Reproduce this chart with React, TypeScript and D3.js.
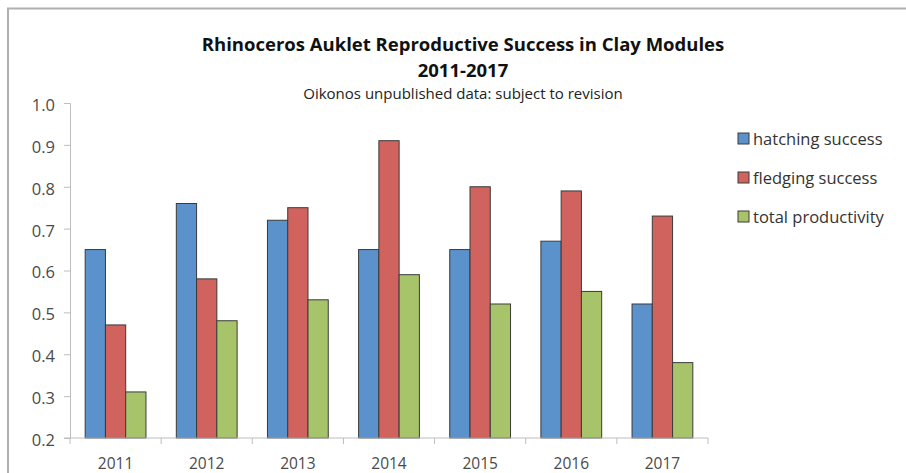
import React, { useEffect, useRef } from "react";
import * as d3 from "d3";

const years = ["2011", "2012", "2013", "2014", "2015", "2016", "2017"];
const seriesNames = ["hatching success", "fledging success", "total productivity"];
const hatching = [0.65, 0.76, 0.72, 0.65, 0.65, 0.67, 0.52];
const fledging = [0.47, 0.58, 0.75, 0.91, 0.8, 0.79, 0.73];
const productivity = [0.31, 0.48, 0.53, 0.59, 0.52, 0.55, 0.38];
const yTicks = [0.2, 0.3, 0.4, 0.5, 0.6, 0.7, 0.8, 0.9, 1.0];
const colors = ["#5b92cb", "#d0635d", "#a8c46b"];

const App = () => {
  const svgRef = useRef<SVGSVGElement>(null);

  useEffect(() => {
    const svg = d3.select(svgRef.current);
    svg.selectAll("*").remove();

    const width = 906;
    const height = 473;
    const font = "'Open Sans', Lato, sans-serif";
    const margin = { left: 70, right: 198, top: 103, bottom: 35 };

    svg.attr("width", width).attr("height", height);

    svg.append("rect").attr("width", width).attr("height", height).attr("fill", "#fff");

    // outer frame (top + left edges visible)
    svg
      .append("path")
      .attr("d", `M8,${height} L8,8.5 L${width},8.5`)
      .attr("fill", "none")
      .attr("stroke", "#b0b0b0")
      .attr("stroke-width", 2);

    const x = d3
      .scaleBand()
      .domain(years)
      .range([margin.left, width - margin.right])
      .paddingInner(0.333)
      .paddingOuter(0.1665);

    const y = d3
      .scaleLinear()
      .domain([0.2, 1.0])
      .range([height - margin.bottom, margin.top]);

    const x1 = d3
      .scaleBand()
      .domain(seriesNames)
      .range([0, x.bandwidth()]);

    const series = [hatching, fledging, productivity];

    // bars
    series.forEach((vals, s) => {
      svg
        .append("g")
        .selectAll("rect")
        .data(vals)
        .enter()
        .append("rect")
        .attr("x", (d, i) => x(years[i])! + x1(seriesNames[s])!)
        .attr("y", (d) => y(d))
        .attr("width", x1.bandwidth())
        .attr("height", (d) => y(0.2) - y(d))
        .attr("fill", colors[s])
        .attr("stroke", "#3a3a3a")
        .attr("stroke-width", 1);
    });

    const axisColor = "#bdbdbd";
    const labelColor = "#4a4a4a";

    // y axis
    const yAxis = svg
      .append("g")
      .attr("transform", `translate(${margin.left},0)`)
      .call(
        d3
          .axisLeft(y)
          .tickValues(yTicks)
          .tickSize(6)
          .tickPadding(9)
          .tickFormat(d3.format(".1f"))
      );
    yAxis.select(".domain").attr("stroke", axisColor);
    yAxis.selectAll(".tick line").attr("stroke", axisColor);
    yAxis
      .selectAll(".tick text")
      .attr("fill", labelColor)
      .attr("font-family", font)
      .attr("font-size", 16.5)
      .attr("dy", "0.45em");

    // x axis
    const xAxisG = svg
      .append("g")
      .attr("transform", `translate(0,${height - margin.bottom})`);
    xAxisG
      .append("line")
      .attr("x1", margin.left - 6)
      .attr("x2", width - margin.right)
      .attr("stroke", axisColor);
    const step = x.step();
    d3.range(years.length + 1).forEach((k) => {
      xAxisG
        .append("line")
        .attr("x1", margin.left + k * step)
        .attr("x2", margin.left + k * step)
        .attr("y1", 0)
        .attr("y2", 6)
        .attr("stroke", axisColor);
    });
    xAxisG
      .selectAll("text")
      .data(years)
      .enter()
      .append("text")
      .attr("x", (d) => x(d)! + x.bandwidth() / 2)
      .attr("y", 31)
      .attr("text-anchor", "middle")
      .attr("fill", labelColor)
      .attr("font-family", font)
      .attr("font-size", 15.5)
      .text((d) => d);

    // titles
    const cx = 463;
    svg
      .append("text")
      .attr("x", cx)
      .attr("y", 51)
      .attr("text-anchor", "middle")
      .attr("font-family", font)
      .attr("font-weight", "bold")
      .attr("font-size", 18.5)
      .attr("fill", "#111")
      .text("Rhinoceros Auklet Reproductive Success in Clay Modules");
    svg
      .append("text")
      .attr("x", cx)
      .attr("y", 77)
      .attr("text-anchor", "middle")
      .attr("font-family", font)
      .attr("font-weight", "bold")
      .attr("font-size", 18.5)
      .attr("fill", "#111")
      .text("2011-2017");
    svg
      .append("text")
      .attr("x", cx)
      .attr("y", 99)
      .attr("text-anchor", "middle")
      .attr("font-family", font)
      .attr("font-size", 15)
      .attr("fill", "#222")
      .text("Oikonos unpublished data: subject to revision");

    // legend
    const legend = svg.append("g").attr("transform", "translate(738,133)");
    seriesNames.forEach((name, i) => {
      const g = legend.append("g").attr("transform", `translate(0,${i * 39})`);
      g.append("rect")
        .attr("width", 11)
        .attr("height", 11)
        .attr("fill", colors[i])
        .attr("stroke", "#3a3a3a")
        .attr("stroke-width", 1);
      g.append("text")
        .attr("x", 15)
        .attr("y", 11.5)
        .attr("font-family", font)
        .attr("font-size", 16.5)
        .attr("fill", "#333")
        .text(name);
    });
  }, []);

  return (
    <svg
      ref={svgRef}
      style={{ position: "absolute", left: 0, top: 0, display: "block" }}
    ></svg>
  );
};

export default App;
